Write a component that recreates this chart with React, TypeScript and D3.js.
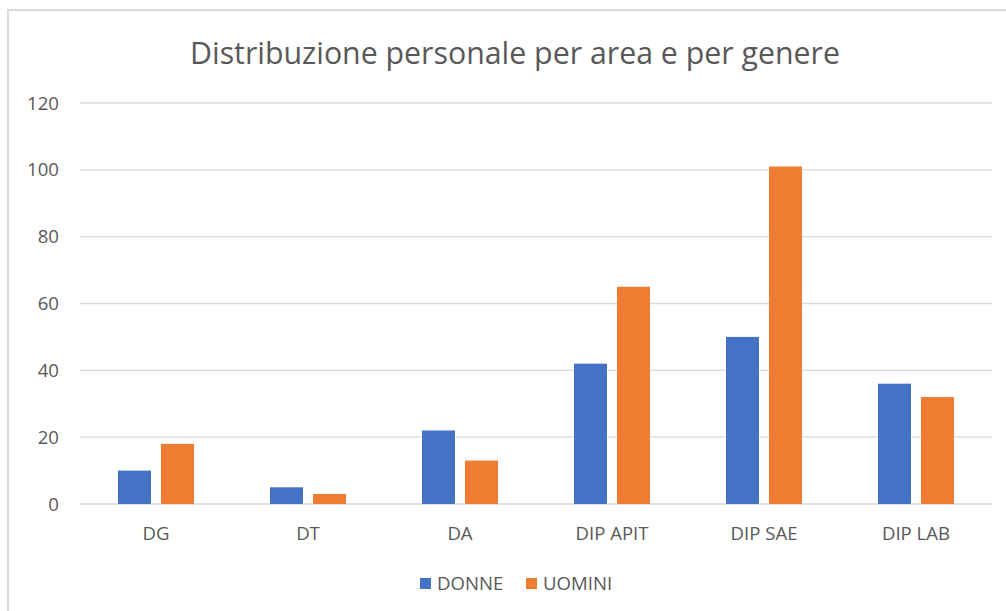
import React from "react";
import * as d3 from "d3";

const categories = ["DG", "DT", "DA", "DIP APIT", "DIP SAE", "DIP LAB"];
const donne = [10, 5, 22, 42, 50, 36];
const uomini = [18, 3, 13, 65, 101, 32];
const yTicks = [0, 20, 40, 60, 80, 100, 120];
const seriesNames = ["DONNE", "UOMINI"];
const colors = ["#4472C4", "#ED7D31"];
const title = "Distribuzione personale per area e per genere";

export default function App() {
  const W = 1006, H = 611;
  const left = 80, right = 992, top = 103, bottom = 504;
  const x = d3.scaleBand<string>().domain(categories).range([left, right]).paddingInner(0).paddingOuter(0);
  const y = d3.scaleLinear().domain([0, 120]).range([bottom, top]);
  const barW = 33, gap = 10;
  const font = "'Open Sans', sans-serif";
  const fs = 18.6;
  const series = [donne, uomini];
  return (
    <svg width={W} height={H} style={{ position: "absolute", left: 0, top: 0, background: "#fff" }}>
      <rect x={8} y={10} width={1100} height={700} fill="#fff" stroke="#d9d9d9" strokeWidth={2} />
      <text x={515} y={64} textAnchor="middle" fontFamily={font} fontSize={30.3} fill="#595959">{title}</text>
      {yTicks.map((t) => (
        <g key={t}>
          <line x1={left} x2={right} y1={y(t)} y2={y(t)} stroke="#d9d9d9" strokeWidth={1.3} />
          <text x={59} y={y(t) + 6.5} textAnchor="end" fontFamily={font} fontSize={fs} fill="#595959">{t}</text>
        </g>
      ))}
      {categories.map((c, i) => {
        const cx = (x(c) as number) + x.bandwidth() / 2;
        return (
          <g key={c}>
            {series.map((s, j) => {
              const bx = j === 0 ? cx - gap / 2 - barW : cx + gap / 2;
              return <rect key={j} x={bx} y={y(s[i])} width={barW} height={y(0) - y(s[i])} fill={colors[j]} />;
            })}
            <text x={cx} y={540} textAnchor="middle" fontFamily={font} fontSize={fs} fill="#595959">{c}</text>
          </g>
        );
      })}
      {seriesNames.map((n, j) => {
        const lx = j === 0 ? 420 : 526;
        return (
          <g key={n}>
            <rect x={lx} y={578} width={11} height={11} fill={colors[j]} />
            <text x={lx + 17} y={590} fontFamily={font} fontSize={fs} fill="#595959">{n}</text>
          </g>
        );
      })}
    </svg>
  );
}
